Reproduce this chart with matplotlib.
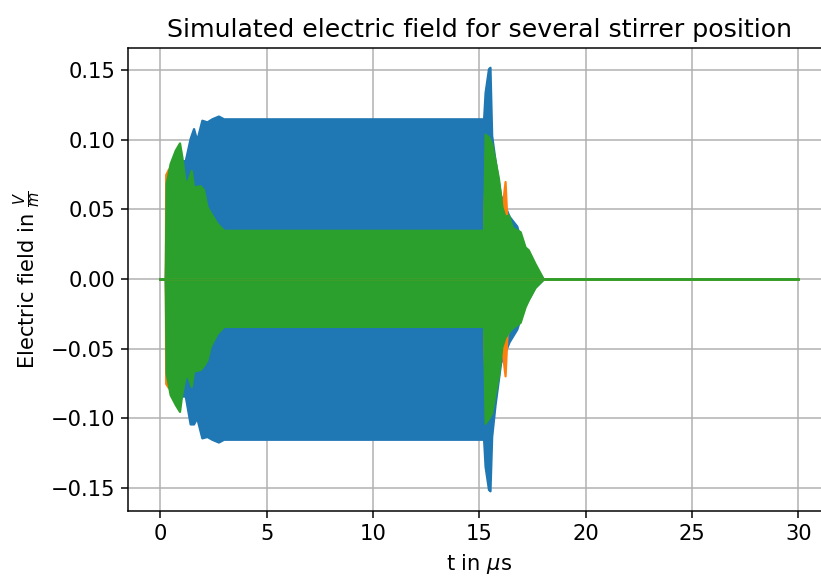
import matplotlib
matplotlib.use("Agg")
import matplotlib.pyplot as plt

# Full time span of the simulation (flat zero field outside active region)
t_full = [0.0, 30.0]
v_full = [0.0, 0.0]

# Blue series: envelope (upper / lower) of the oscillating field
t_blue = [0.23, 0.3, 0.6, 1.0, 1.17, 1.4, 1.56, 1.71, 1.95, 2.19, 2.42, 2.73, 2.97,
          15.2, 15.27, 15.43, 15.5, 15.58, 15.74, 16.0, 16.4, 16.76, 17.1, 17.6, 18.0]
blue_upper = [0.0, 0.05, 0.07, 0.085, 0.085, 0.101, 0.108, 0.0996, 0.114, 0.1128, 0.115, 0.117, 0.115,
              0.115, 0.134, 0.151, 0.152, 0.103, 0.085, 0.06, 0.045, 0.038, 0.02, 0.006, 0.0]
blue_lower = [0.0, -0.05, -0.07, -0.084, -0.084, -0.104, -0.104, -0.0996, -0.114, -0.113, -0.115, -0.117, -0.115,
              -0.115, -0.1345, -0.151, -0.152, -0.113, -0.09, -0.06, -0.045, -0.036, -0.02, -0.006, 0.0]

# Orange series envelope
t_orange = [0.23, 0.25, 0.38, 0.5, 0.8, 1.5, 2.5, 3.0, 15.2, 15.3, 15.6, 16.0, 16.1, 16.21, 16.3, 16.5, 17.0, 17.6, 18.0]
orange_upper = [0.0, 0.075, 0.079, 0.072, 0.07, 0.055, 0.035, 0.032, 0.032, 0.095, 0.09, 0.05, 0.055, 0.070, 0.04, 0.033, 0.022, 0.008, 0.0]
orange_lower = [0.0, -0.075, -0.078, -0.072, -0.07, -0.055, -0.033, -0.032, -0.032, -0.095, -0.09, -0.045, -0.055, -0.0695, -0.04, -0.033, -0.019, -0.005, 0.0]

# Green series envelope
t_green = [0.23, 0.27, 0.46, 0.70, 0.90, 1.01, 1.17, 1.30, 1.45, 1.56, 1.87, 2.03, 2.19, 2.34, 2.42, 2.66, 2.97,
           15.2, 15.27, 15.43, 15.58, 15.74, 15.9, 16.06, 16.2, 16.37, 16.55, 16.92, 17.15, 17.3, 17.62, 18.01]
green_upper = [0.0, 0.0686, 0.083, 0.0925, 0.0977, 0.0877, 0.0686, 0.071, 0.078, 0.066, 0.067, 0.064, 0.052, 0.048, 0.046, 0.040, 0.035,
               0.035, 0.104, 0.102, 0.097, 0.085, 0.072, 0.052, 0.045, 0.046, 0.037, 0.034, 0.023, 0.021, 0.011, 0.0]
green_lower = [0.0, -0.0676, -0.083, -0.090, -0.095, -0.082, -0.070, -0.070, -0.077, -0.066, -0.065, -0.062, -0.058, -0.0485, -0.046, -0.039, -0.034,
               -0.034, -0.1035, -0.1, -0.096, -0.082, -0.069, -0.0485, -0.042, -0.038, -0.035, -0.031, -0.020, -0.015, -0.006, 0.0]

series = [
    ("tab:blue", t_blue, blue_upper, blue_lower),
    ("tab:orange", t_orange, orange_upper, orange_lower),
    ("tab:green", t_green, green_upper, green_lower),
]

DPI = 135
plt.rcParams["font.size"] = 11.2
fig = plt.figure(figsize=(821 / DPI, 576 / DPI), dpi=DPI)
ax = fig.add_axes([0.1565, 0.1128, 0.8547, 0.8038])

for color, t, up, lo in series:
    ax.plot(t_full, v_full, color=color, lw=1.5)
    ax.fill_between(t, up, lo, color=color, lw=1.2, edgecolor=color)

ax.set_xlim(-1.5, 31.5)
ax.set_ylim(-0.1665, 0.1658)
ax.set_xticks([0, 5, 10, 15, 20, 25, 30])
ax.set_yticks([-0.15, -0.10, -0.05, 0.0, 0.05, 0.10, 0.15])
ax.grid(True)
ax.set_axisbelow(True)
ax.set_title("Simulated electric field for several stirrer position")
ax.set_xlabel(r"t in $\mu$s")
ax.set_ylabel(r"Electric field in $\frac{V}{m}$")

fig.savefig("out.png", dpi=DPI)
